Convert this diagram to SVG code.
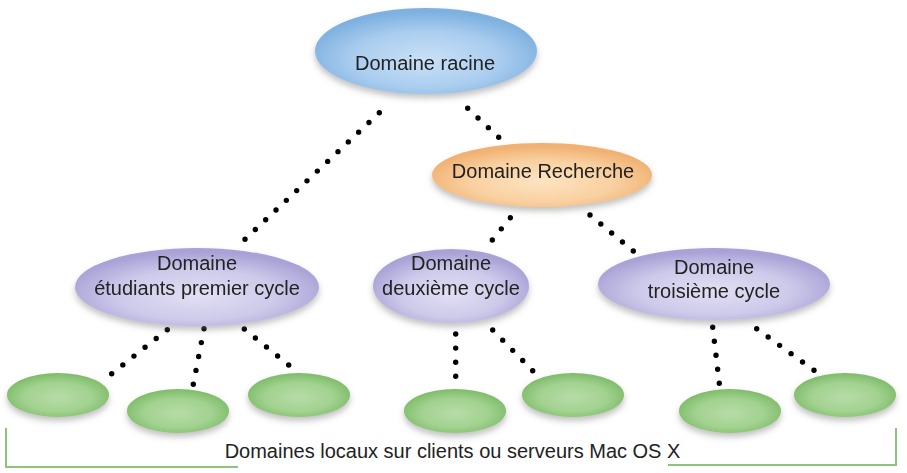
<svg xmlns="http://www.w3.org/2000/svg" width="907" height="473" viewBox="0 0 907 473">
<defs>
<radialGradient id="gBlue" cx="50%" cy="60%" r="55%">
<stop offset="0" stop-color="#c9e1f6"/><stop offset="0.6" stop-color="#aacdef"/><stop offset="1" stop-color="#7fb1e0"/>
</radialGradient>
<radialGradient id="gOrange" cx="50%" cy="60%" r="55%">
<stop offset="0" stop-color="#fde4c2"/><stop offset="0.6" stop-color="#f9d0a0"/><stop offset="1" stop-color="#f0b172"/>
</radialGradient>
<radialGradient id="gPurple" cx="50%" cy="60%" r="55%">
<stop offset="0" stop-color="#e2e0f3"/><stop offset="0.6" stop-color="#cdc9ea"/><stop offset="1" stop-color="#a8a2d6"/>
</radialGradient>
<radialGradient id="gGreen" cx="50%" cy="55%" r="55%">
<stop offset="0" stop-color="#b7dca7"/><stop offset="0.6" stop-color="#a2d290"/><stop offset="1" stop-color="#7dbb68"/>
</radialGradient>
<filter id="sh" x="-10%" y="-20%" width="120%" height="150%">
<feDropShadow dx="0" dy="4" stdDeviation="3" flood-color="#777" flood-opacity="0.45"/>
</filter>
</defs>
<style>
text{font-family:"Liberation Sans",Arial,Helvetica,sans-serif;font-size:20px;fill:#222;text-anchor:middle}
.dots{stroke:#000;stroke-width:5.4;stroke-linecap:round;stroke-dasharray:0 0.9999;fill:none}
.node{filter:url(#sh)}
.bracket{fill:none;stroke:#8fc27d;stroke-width:2}
</style>
<g id="connectors">
<line class="dots" x1="379.3" y1="112.7" x2="245" y2="239.3" pathLength="13"/>
<line class="dots" x1="467.7" y1="108.3" x2="498.7" y2="137.3" pathLength="3"/>
<line class="dots" x1="510.3" y1="217.7" x2="492.3" y2="240" pathLength="2"/>
<line class="dots" x1="590" y1="215" x2="633.3" y2="251" pathLength="4"/>
<line class="dots" x1="167.3" y1="329.7" x2="111.7" y2="373.7" pathLength="5"/>
<line class="dots" x1="204" y1="328.7" x2="193.3" y2="384.3" pathLength="4"/>
<line class="dots" x1="244.3" y1="329" x2="288.7" y2="365" pathLength="4"/>
<line class="dots" x1="455.7" y1="334" x2="455.7" y2="376.3" pathLength="3"/>
<line class="dots" x1="492.7" y1="330" x2="532.7" y2="370.7" pathLength="4"/>
<line class="dots" x1="712.7" y1="327.3" x2="719.3" y2="383.3" pathLength="4"/>
<line class="dots" x1="756.7" y1="328.7" x2="814" y2="370.3" pathLength="5"/>
</g>
<g id="root" class="node">
<ellipse cx="426" cy="51" rx="111" ry="43" fill="url(#gBlue)"/>
<text x="425" y="70">Domaine racine</text>
</g>
<g id="recherche" class="node">
<ellipse cx="542" cy="175" rx="110" ry="32" fill="url(#gOrange)"/>
<text x="543" y="178">Domaine Recherche</text>
</g>
<g id="etudiants" class="node">
<ellipse cx="197" cy="287" rx="122" ry="39" fill="url(#gPurple)"/>
<text x="197" y="270">Domaine</text>
<text x="197" y="295">étudiants premier cycle</text>
</g>
<g id="deuxieme" class="node">
<ellipse cx="451" cy="286" rx="78" ry="37" fill="url(#gPurple)"/>
<text x="451" y="270">Domaine</text>
<text x="451" y="295">deuxième cycle</text>
</g>
<g id="troisieme" class="node">
<ellipse cx="714" cy="284" rx="116" ry="36" fill="url(#gPurple)"/>
<text x="714" y="274">Domaine</text>
<text x="714" y="298">troisième cycle</text>
</g>
<g id="local1" class="node"><ellipse cx="58" cy="395" rx="51" ry="22" fill="url(#gGreen)"/></g>
<g id="local2" class="node"><ellipse cx="178" cy="411" rx="51" ry="22" fill="url(#gGreen)"/></g>
<g id="local3" class="node"><ellipse cx="299" cy="395" rx="51" ry="22" fill="url(#gGreen)"/></g>
<g id="local4" class="node"><ellipse cx="455" cy="411" rx="51" ry="22" fill="url(#gGreen)"/></g>
<g id="local5" class="node"><ellipse cx="573" cy="395" rx="51" ry="22" fill="url(#gGreen)"/></g>
<g id="local6" class="node"><ellipse cx="730" cy="411" rx="51" ry="22" fill="url(#gGreen)"/></g>
<g id="local7" class="node"><ellipse cx="845" cy="395" rx="51" ry="22" fill="url(#gGreen)"/></g>
<g id="legend">
<path class="bracket" d="M6,428 V467 H238"/>
<path class="bracket" d="M668,465 H896 V428"/>
<text x="452.5" y="458">Domaines locaux sur clients ou serveurs Mac OS X</text>
</g>
</svg>
